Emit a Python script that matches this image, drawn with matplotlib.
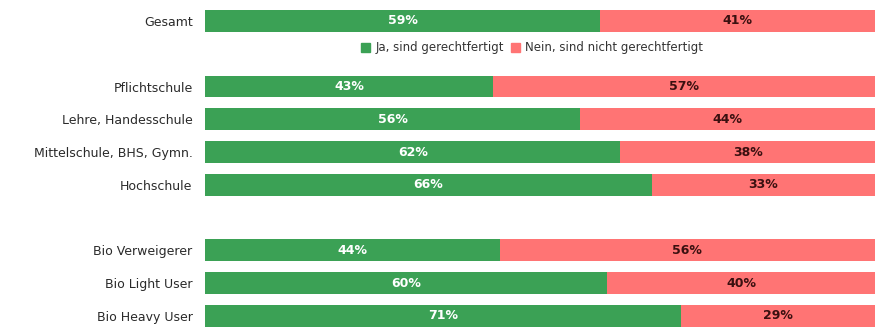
import matplotlib.pyplot as plt
from matplotlib.patches import Patch

# Survey shares per group (percent)
groups = ['Gesamt', 'Pflichtschule', 'Lehre, Handesschule', 'Mittelschule, BHS, Gymn.',
          'Hochschule', 'Bio Verweigerer', 'Bio Light User', 'Bio Heavy User']
ja = [59, 43, 56, 62, 66, 44, 60, 71]
nein = [41, 57, 44, 38, 33, 56, 40, 29]
rows = [0, 2, 3, 4, 5, 7, 8, 9]   # gaps between blocks

green = '#3ba155'
red = '#ff7474'

fig = plt.figure(figsize=(8.96, 3.31), dpi=100)
ax = fig.add_axes([205/896, 0, 670/896, 1])

for y, a, b in zip(rows, ja, nein):
    tot = a + b
    wa = a / tot * 100
    wb = b / tot * 100
    ax.barh(y, wa, height=0.67, color=green, left=0)
    ax.barh(y, wb, height=0.67, color=red, left=wa)
    ax.text(wa / 2, y, f'{a}%', ha='center', va='center', color='white',
            fontsize=9, fontweight='bold')
    ax.text(wa + wb / 2, y, f'{b}%', ha='center', va='center', color='#3a1010',
            fontsize=9, fontweight='bold')

ax.set_xlim(0, 100)
ax.set_ylim(9.46, -0.64)
ax.set_yticks(rows)
ax.set_yticklabels(groups, fontsize=9, color='#2a2a2a')
ax.tick_params(axis='y', length=0, pad=9)
ax.set_xticks([])
for s in ax.spines.values():
    s.set_visible(False)

handles = [Patch(color=green, label='Ja, sind gerechtfertigt'),
           Patch(color=red, label='Nein, sind nicht gerechtfertigt')]
ax.legend(handles=handles, loc='center', bbox_to_anchor=(532/896, 1 - (48/331)),
          bbox_transform=fig.transFigure, ncol=2, frameon=False, fontsize=8.5,
          handlelength=0.8, handleheight=0.8, handletextpad=0.4, columnspacing=0.6,
          labelcolor='#333333')

fig.savefig('out.png', dpi=100)
